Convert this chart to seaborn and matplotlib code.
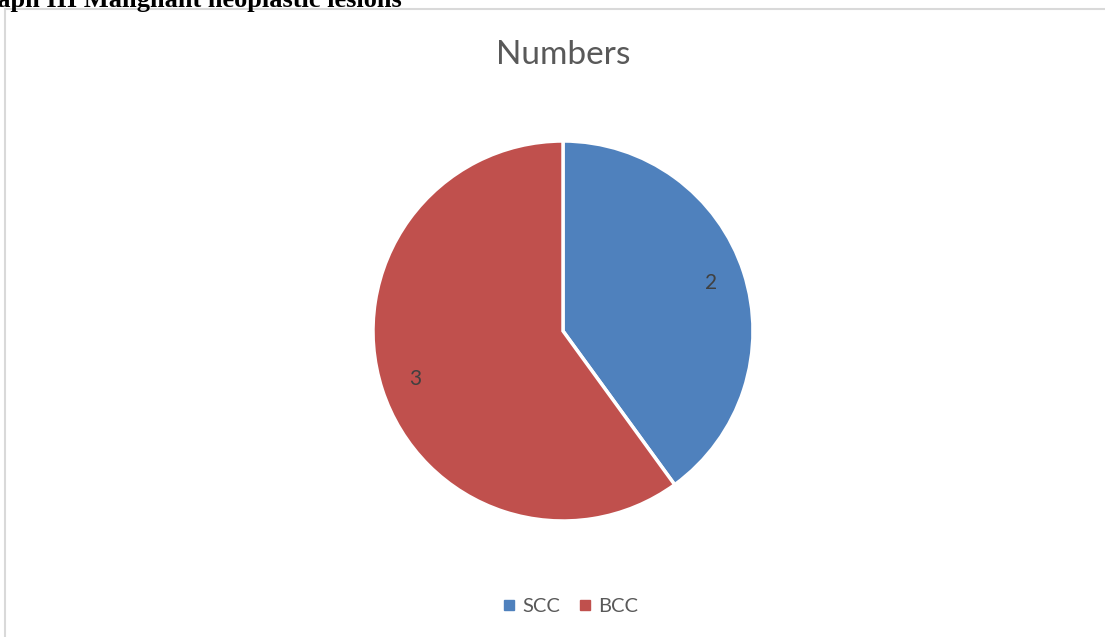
import matplotlib
matplotlib.use("Agg")
import matplotlib.pyplot as plt
import seaborn as sns
from matplotlib.lines import Line2D

categories = ["SCC", "BCC"]
values = [2, 3]
colors = ["#4F81BD", "#C0504D"]
title = "Numbers"
caption = "Graph III Malignant neoplastic lesions"

sns.set_theme(style="white")
plt.rcParams["font.family"] = ["Lato", "DejaVu Sans"]

W, H = 1105, 637
fig = plt.figure(figsize=(W / 100, H / 100), dpi=100)
fig.patch.set_facecolor("white")

# chart border
fig.add_artist(Line2D([5 / W, 5 / W], [0, 1 - 9 / H], transform=fig.transFigure,
                      color="#D9D9D9", lw=1.5))
fig.add_artist(Line2D([5 / W, 1], [1 - 9 / H, 1 - 9 / H], transform=fig.transFigure,
                      color="#D9D9D9", lw=1.5))

# caption (partly outside the picture, as in the reference)
fig.text(402 / W, 1 - 7.5 / H, caption, ha="right", va="baseline",
         fontsize=19, fontweight="bold", family="Liberation Serif", color="black")

cx, cy, r = 563, 331, 190
ax = fig.add_axes([(cx - r) / W, (H - cy - r) / H, 2 * r / W, 2 * r / H])
wedges, texts, autotexts = ax.pie(
    values, colors=colors, startangle=90, counterclock=False,
    wedgeprops=dict(edgecolor="white", linewidth=2.5),
    autopct=lambda p: f"{round(p * sum(values) / 100):d}",
    pctdistance=0.82,
    textprops=dict(fontsize=15, color="#404040"),
)
ax.set_xlim(-1, 1)
ax.set_ylim(-1, 1)
ax.set_aspect("equal")
ax.axis("off")

fig.text(cx / W, 1 - 55 / H, title, ha="center", va="center",
         fontsize=24, color="#595959")

handles = [Line2D([0], [0], marker="s", linestyle="none", markersize=7,
                  markerfacecolor=c, markeredgecolor=c) for c in colors]
fig.legend(handles, categories, loc="center", bbox_to_anchor=(570 / W, 1 - 606 / H),
           ncol=2, frameon=False, fontsize=14.5, handletextpad=0.3,
           columnspacing=0.9, labelcolor="#595959", handlelength=0.7)

fig.savefig("out.png", dpi=100, facecolor="white")
